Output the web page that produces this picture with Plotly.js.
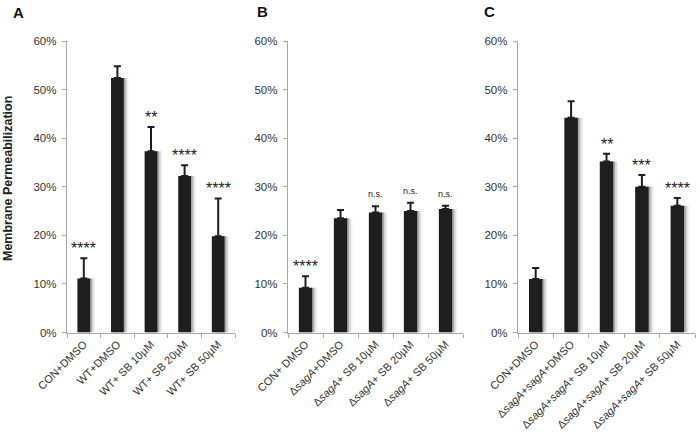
<!DOCTYPE html>
<html><head><meta charset="utf-8">
<script src="https://cdn.plot.ly/plotly-3.0.1.min.js"></script>
<style>html,body{margin:0;padding:0;background:#fff}#c{width:700px;height:442px}</style>
</head><body><div id="c"></div>
<script>
// Panel A
const catsA = ['CON+DMSO','WT+DMSO','WT+ SB 10µM','WT+ SB 20µM','WT+ SB 50µM'];
const valsA = [11.1, 52.4, 37.3, 32.2, 19.8];
const errsA = [4.2, 2.4, 5.0, 2.2, 7.8];
const sigA  = ['****','','**','****','****'];
// Panel B
const catsB = ['CON+ DMSO','Δ<i>sagA</i>+DMSO','Δ<i>sagA</i>+ SB 10µM','Δ<i>sagA</i>+ SB 20µM','Δ<i>sagA</i>+ SB 50µM'];
const valsB = [9.2, 23.5, 24.7, 25.0, 25.4];
const errsB = [2.4, 1.7, 1.3, 1.7, 0.7];
const sigB  = ['****','','n.s.','n.s.','n.s.'];
// Panel C
const catsC = ['CON+DMSO','Δ<i>sagA</i>+<i>sagA</i>+DMSO','Δ<i>sagA</i>+<i>sagA</i>+ SB 10µM','Δ<i>sagA</i>+<i>sagA</i>+ SB 20µM','Δ<i>sagA</i>+<i>sagA</i>+ SB 50µM'];
const valsC = [11.0, 44.2, 35.2, 30.0, 26.1];
const errsC = [2.3, 3.4, 1.6, 2.4, 1.6];
const sigC  = ['','','**','***','****'];

const yTicks = [0,10,20,30,40,50,60];
const yTickText = ['0%','10%','20%','30%','40%','50%','60%'];
const panelLetters = ['A','B','C'];

const W = 700, H = 442;
const panels = [
  {cats:catsA, vals:valsA, errs:errsA, sig:sigA, x0:67, x1:235, letter:[18,12]},
  {cats:catsB, vals:valsB, errs:errsB, sig:sigB, x0:288, x1:463, letter:[262,11]},
  {cats:catsC, vals:valsC, errs:errsC, sig:sigC, x0:518, x1:695, letter:[490,11]}
];
const yBot = 332.5, yTop = 41;
const BW = 0.38;
const traces = [], annotations = [];
const layout = {
  width: W, height: H, margin:{l:0,r:0,t:0,b:0},
  paper_bgcolor:'#fff', plot_bgcolor:'rgba(0,0,0,0)',
  showlegend:false, barmode:'overlay',
  font:{family:'"Liberation Sans", Arial, sans-serif', color:'#333333'},
  annotations: annotations
};
panels.forEach((p, i) => {
  const sx = i === 0 ? '' : String(i+1);
  const xa = 'x'+sx, ya = 'y'+sx;
  // soft shadows
  [[0.05,'rgba(0,0,0,0.22)'],[0.10,'rgba(0,0,0,0.12)'],[0.15,'rgba(0,0,0,0.05)']].forEach(([d,c]) => {
    traces.push({type:'bar', x:p.cats, y:p.vals, xaxis:xa, yaxis:ya,
      width:BW, offset:-BW/2+d, marker:{color:c, line:{width:0}}, hoverinfo:'skip'});
  });
  traces.push({type:'bar', x:p.cats, y:p.vals, xaxis:xa, yaxis:ya,
    width:BW, offset:-BW/2, marker:{color:'#1e1e1e', line:{width:0}},
    error_y:{type:'data', symmetric:false, array:p.errs, arrayminus:p.errs.map(()=>0),
      color:'#1e1e1e', thickness:2, width:3.5}});
  layout['xaxis'+sx] = {
    domain:[p.x0/W, p.x1/W], anchor:ya, type:'category',
    showline:true, linecolor:'#a8a8a8', linewidth:1.2,
    ticks:'outside', tickson:'boundaries', ticklen:4, tickcolor:'#a8a8a8',
    tickangle:-45, tickfont:{size:11, color:'#333333'}, showgrid:false, zeroline:false,
    range:[-0.5, 4.5], fixedrange:true
  };
  layout['yaxis'+sx] = {
    domain:[(H-yBot)/H, (H-yTop)/H], anchor:xa, range:[0,60],
    tickmode:'array', tickvals:yTicks, ticktext:yTickText,
    showline:true, linecolor:'#a8a8a8', linewidth:1.2,
    ticks:'outside', ticklen:4, tickcolor:'#a8a8a8', tickfont:{size:11.5, color:'#333333'},
    ticklabelstandoff:3,
    showgrid:false, zeroline:false, fixedrange:true
  };
  p.sig.forEach((s, k) => {
    if (!s) return;
    const ns = s === 'n.s.';
    annotations.push({xref:xa, yref:ya, x:p.cats[k], y:p.vals[k]+p.errs[k], text:s,
      showarrow:false, yanchor:'bottom', yshift: ns ? 5 : -1,
      font:{size: ns ? 9 : 16, color:'#222'}});
  });
  annotations.push({xref:'paper', yref:'paper', x:p.letter[0]/W, y:(H-p.letter[1])/H,
    text:'<b>'+panelLetters[i]+'</b>', showarrow:false, xanchor:'center', yanchor:'middle',
    font:{size:15, color:'#111'}});
});
annotations.push({xref:'paper', yref:'paper', x:8/W, y:(H-179)/H, text:'<b>Membrane Permeabilization</b>',
  textangle:-90, showarrow:false, xanchor:'center', yanchor:'middle', font:{size:12.5, color:'#222'}});

Plotly.newPlot('c', traces, layout, {staticPlot:true, displayModeBar:false});
</script></body></html>
